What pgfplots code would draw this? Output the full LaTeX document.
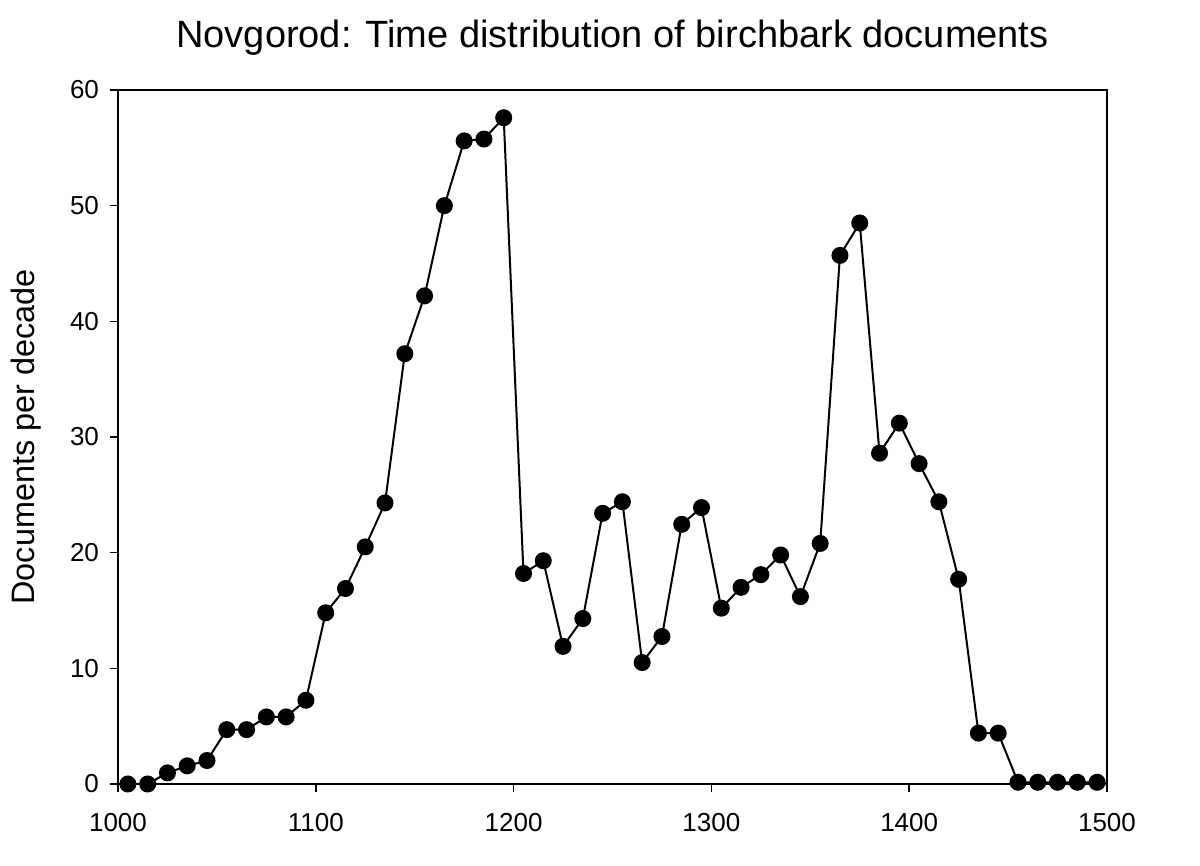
\documentclass[border=0pt]{standalone}
\usepackage{pgfplots}
\pgfplotsset{compat=1.18}
\usepackage{fontspec}
\setmainfont{Liberation Sans}
\begin{document}
\begin{tikzpicture}
\useasboundingbox (-59pt,-41pt) rectangle (541pt,392pt);
\begin{axis}[
  scale only axis,
  width=494.5pt, height=347pt,
  xmin=1000, xmax=1500, ymin=0, ymax=60,
  xtick={1000,1100,...,1500},
  ytick={0,10,...,60},
  axis line style={line width=0.75pt},
  tick style={line width=0.75pt, black},
  tick align=outside,
  major tick length=4pt,
  xtick pos=bottom, ytick pos=left,
  /pgf/number format/assume math mode=true,
  /pgf/number format/1000 sep={},
  tick label style={font=\fontsize{13}{15}\selectfont},
  xticklabel style={yshift=-7pt},
  yticklabel style={xshift=-2pt},
  ylabel={Documents per decade},
  ylabel style={font=\fontsize{16.2}{19}\selectfont, at={(axis description cs:-0.093,0.5)}, anchor=center},
  title={\fontsize{19}{22}\selectfont Novgorod: Time distribution of birchbark documents},
  title style={at={(axis description cs:0.5,1)}, anchor=center, yshift=20pt},
  clip=false,
]
\addplot[black, line width=1pt, mark=*, mark size=3.75pt, mark options={solid, fill=black}] coordinates {
(1005,0) (1015,0) (1025,0.96) (1035,1.57) (1045,2.03) (1055,4.7) (1065,4.7) (1075,5.8) (1085,5.8) (1095,7.24)
(1105,14.8) (1115,16.9) (1125,20.5) (1135,24.3) (1145,37.2) (1155,42.2) (1165,50.0) (1175,55.6) (1185,55.76) (1195,57.6)
(1205,18.2) (1215,19.3) (1225,11.9) (1235,14.3) (1245,23.4) (1255,24.4) (1265,10.5) (1275,12.75) (1285,22.45) (1295,23.9)
(1305,15.2) (1315,17.0) (1325,18.1) (1335,19.8) (1345,16.2) (1355,20.8) (1365,45.7) (1375,48.5) (1385,28.6) (1395,31.2)
(1405,27.7) (1415,24.4) (1425,17.7) (1435,4.4) (1445,4.4) (1455,0.15) (1465,0.15) (1475,0.15) (1485,0.15) (1495,0.15)
};
\end{axis}
\end{tikzpicture}
\end{document}
